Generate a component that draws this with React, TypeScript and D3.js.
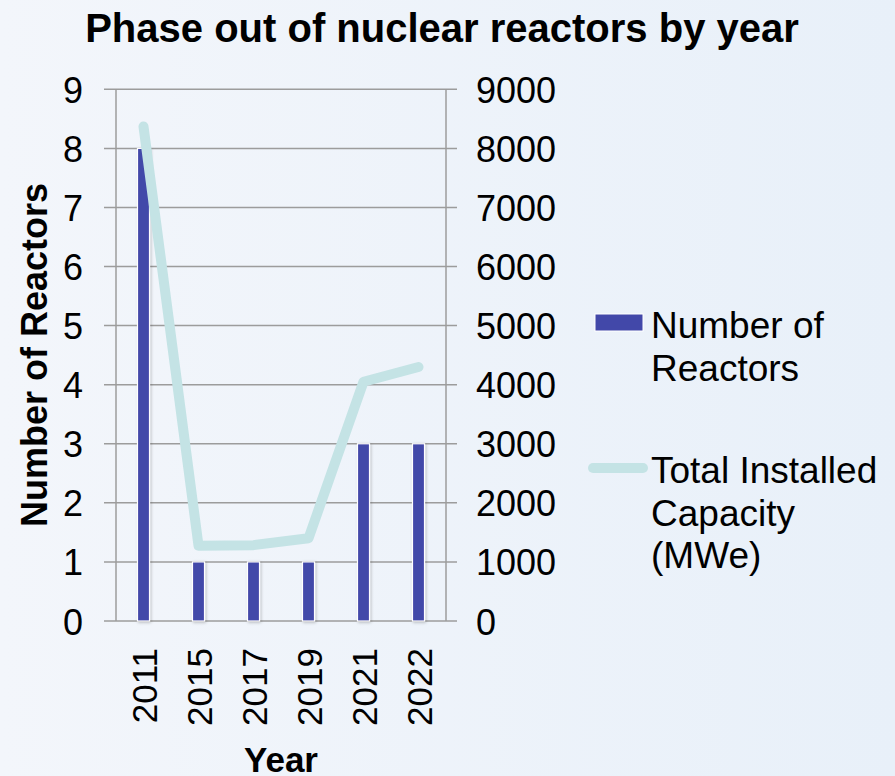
import React from "react";
import * as d3 from "d3";

const years = ["2011", "2015", "2017", "2019", "2021", "2022"];
const reactors = [8, 1, 1, 1, 3, 3];
const capacity = [8370, 1275, 1284, 1400, 4050, 4300];
const leftTicks = [0, 1, 2, 3, 4, 5, 6, 7, 8, 9];
const rightTicks = [0, 1000, 2000, 3000, 4000, 5000, 6000, 7000, 8000, 9000];

const W = 895;
const H = 776;
const plot = { left: 116, right: 446, top: 89.3, bottom: 621 };
const FONT = "'Liberation Sans', Arial, Helvetica, sans-serif";

export default function App() {
  const x = d3.scaleBand<string>().domain(years).range([plot.left, plot.right]);
  const yL = d3.scaleLinear().domain([0, 9]).range([plot.bottom, plot.top]);
  const yR = d3.scaleLinear().domain([0, 9000]).range([plot.bottom, plot.top]);
  const barW = 12;
  const line = d3
    .line<number>()
    .x((_, i) => (x(years[i]) as number) + x.bandwidth() / 2)
    .y((d) => yR(d));

  const grid = "#9c9c9c";

  return (
    <svg
      width={W}
      height={H}
      style={{ position: "absolute", left: 0, top: 0 }}
      fontFamily={FONT}
    >
      <defs>
        <linearGradient id="bg" x1="0" y1="0" x2="1" y2="0">
          <stop offset="0" stopColor="#f3f6fb" />
          <stop offset="1" stopColor="#e8f0f9" />
        </linearGradient>
        <filter id="sh" x="-50%" y="-10%" width="200%" height="120%">
          <feDropShadow dx="1" dy="1" stdDeviation="1.5" floodColor="#000" floodOpacity="0.25" />
        </filter>
      </defs>
      <rect width={W} height={H} fill="url(#bg)" />

      <text x={442} y={41.5} textAnchor="middle" fontSize={40} fontWeight="bold" fill="#000">
        Phase out of nuclear reactors by year
      </text>

      {/* grid lines */}
      {leftTicks.map((t) => (
        <line key={"g" + t} x1={104} x2={457} y1={yL(t)} y2={yL(t)} stroke={grid} strokeWidth={1.5} />
      ))}
      <line x1={plot.left} x2={plot.left} y1={plot.top} y2={plot.bottom} stroke={grid} strokeWidth={1.5} />
      <line x1={plot.right} x2={plot.right} y1={plot.top} y2={plot.bottom} stroke={grid} strokeWidth={1.5} />

      {/* bars */}
      {reactors.map((v, i) => {
        const cx = (x(years[i]) as number) + x.bandwidth() / 2;
        return (
          <rect
            key={"b" + i}
            x={cx - barW / 2}
            y={yL(v)}
            width={barW}
            height={plot.bottom - yL(v)}
            fill="#4248a9"
            stroke="#ffffff"
            strokeWidth={1.2}
            filter="url(#sh)"
          />
        );
      })}

      {/* line */}
      <path
        d={line(capacity) || ""}
        fill="none"
        stroke="#c4e3e5"
        strokeWidth={10}
        strokeLinecap="round"
        strokeLinejoin="round"
      />

      {/* left tick labels */}
      {leftTicks.map((t) => (
        <text key={"l" + t} x={83} y={yL(t) + 13.5} textAnchor="end" fontSize={36} fill="#000">
          {t}
        </text>
      ))}
      {/* right tick labels */}
      {rightTicks.map((t) => (
        <text key={"r" + t} x={476} y={yR(t) + 13.5} textAnchor="start" fontSize={36} fill="#000">
          {t}
        </text>
      ))}
      {/* x labels */}
      {years.map((y) => {
        const cx = (x(y) as number) + x.bandwidth() / 2;
        return (
          <text
            key={"x" + y}
            transform={`translate(${cx + 13},648) rotate(-90)`}
            textAnchor="end"
            fontSize={35}
            fill="#000"
          >
            {y}
          </text>
        );
      })}

      <text x={281} y={772} textAnchor="middle" fontSize={35} fontWeight="bold" fill="#000">
        Year
      </text>
      <text
        transform="translate(47,355) rotate(-90)"
        textAnchor="middle"
        fontSize={36}
        fontWeight="bold"
        fill="#000"
      >
        Number of Reactors
      </text>

      {/* legend */}
      <rect x={595} y={314} width={48} height={17} fill="#4248a9" stroke="#ffffff" strokeWidth={1} />
      <text x={651} y={338} fontSize={37} fill="#000">
        <tspan x={651}>Number of</tspan>
        <tspan x={651} dy={43}>Reactors</tspan>
      </text>
      <line x1={593} x2={643} y1={468} y2={468} stroke="#c4e3e5" strokeWidth={10} strokeLinecap="round" />
      <text x={651} y={483} fontSize={37} fill="#000">
        <tspan x={651}>Total Installed</tspan>
        <tspan x={651} dy={43}>Capacity</tspan>
        <tspan x={651} dy={42}>(MWe)</tspan>
      </text>
    </svg>
  );
}
